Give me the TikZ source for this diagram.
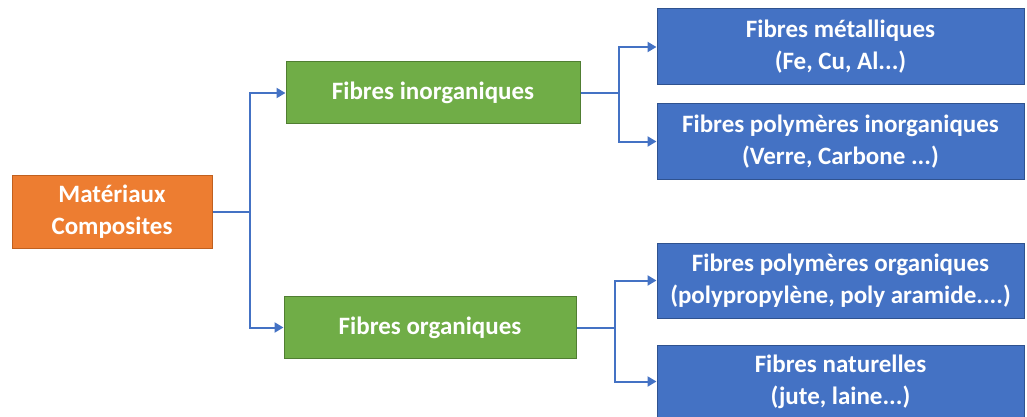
\documentclass[tikz,border=0pt]{standalone}
\usepackage{fontspec}
\setmainfont{Carlito}
\usetikzlibrary{arrows.meta}
\definecolor{cOrange}{HTML}{ED7D31}
\definecolor{cOrangeD}{HTML}{C0601F}
\definecolor{cGreen}{HTML}{70AD47}
\definecolor{cGreenD}{HTML}{507E32}
\definecolor{cBlue}{HTML}{4472C4}
\definecolor{cBlueD}{HTML}{2F528F}
\definecolor{cLink}{HTML}{4472C4}
\tikzset{
  box/.style={draw, line width=1pt, inner sep=0pt, align=center, text=white,
    font=\fontsize{25}{32}\selectfont\bfseries},
  rootbox/.style={box, fill=cOrange, draw=cOrangeD, minimum width=200pt, minimum height=73pt},
  midbox/.style={box, fill=cGreen, draw=cGreenD, minimum height=62pt},
  leafbox/.style={box, fill=cBlue, draw=cBlueD, minimum width=367pt},
  conn/.style={draw=cLink, line width=2pt, -{Triangle[length=9pt,width=10pt]}},
}
\begin{document}
\begin{tikzpicture}[x=1pt,y=-1pt]
  \useasboundingbox (0,0) rectangle (1027,417);

  % root
  \node[rootbox] (root) at (112,211.5) {Matériaux\\Composites};

  % second level
  \node[midbox, minimum width=294pt] (inorg) at (433,93) {Fibres inorganiques};
  \node[midbox, minimum width=292pt] (org) at (430,327.5) {Fibres organiques};

  % leaves
  \node[leafbox, minimum height=76pt] (metal) at (840.5,47) {Fibres métalliques\\(Fe, Cu, Al...)};
  \node[leafbox, minimum height=75pt] (polyin) at (840.5,141.5) {Fibres polymères inorganiques\\(Verre, Carbone ...)};
  \node[leafbox, minimum height=75pt] (polyorg) at (840.5,280.5) {Fibres polymères organiques\\(polypropylène, poly aramide....)};
  \node[leafbox, minimum height=73pt] (nat) at (840.5,381.5) {Fibres naturelles\\(jute, laine...)};

  % connectors
  \coordinate (j0) at (250,211.5);
  \coordinate (j1) at (619,93);
  \coordinate (j2) at (615,327.5);

  \draw[draw=cLink, line width=2pt] (root.east) -- (j0);
  \draw[conn] (j0) |- (inorg.west);
  \draw[conn] (j0) |- (org.west);

  \draw[draw=cLink, line width=2pt] (inorg.east) -- (j1);
  \draw[conn] (j1) |- (metal.west);
  \draw[conn] (j1) |- (polyin.west);

  \draw[draw=cLink, line width=2pt] (org.east) -- (j2);
  \draw[conn] (j2) |- (polyorg.west);
  \draw[conn] (j2) |- (nat.west);
\end{tikzpicture}
\end{document}
